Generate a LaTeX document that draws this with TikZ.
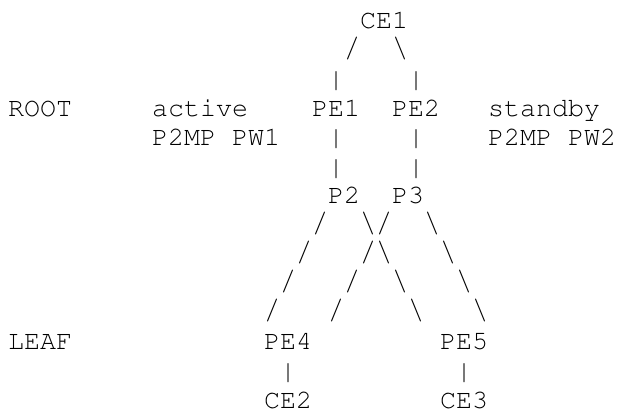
\documentclass[tikz,border=0pt]{standalone}
\usepackage[T1]{fontenc}
\usepackage{graphicx}
\usepackage{tikz}
\newcommand\asciifont{\fontfamily{pcr}\fontsize{26.67}{29.2}\selectfont}
% stretched link glyphs, as tall as in the reference
\newcommand\pipeglyph{\resizebox*{\width}{26pt}{|}}
\newcommand\slashglyph{\resizebox*{\width}{22pt}{/}}
\newcommand\bslashglyph{\resizebox*{\width}{22pt}{\textbackslash}}

\begin{document}
\begin{tikzpicture}
    %% grid: one unit = one character cell
    [
        x=16pt, y=-29.2pt,
        asciinode/.style={anchor=base west, inner sep=0pt, font=\asciifont},
        asciilink/.style={anchor=south west, inner sep=0pt, font=\asciifont, yshift=-2pt},
        pipelink/.style={asciilink, yshift=-5.5pt},
    ]
    \useasboundingbox (-0.5,-0.976) rectangle (38.125,13.168);

    %% Nodes
    \node [asciinode] (ce1) at (22,0) {CE1};
    \node [asciinode] (root) at (0,3) {ROOT};
    \node [asciinode] (active) at (9,3) {active};
    \node [asciinode] (pwone) at (9,4) {P2MP PW1};
    \node [asciinode] (pe1) at (19,3) {PE1};
    \node [asciinode] (pe2) at (24,3) {PE2};
    \node [asciinode] (standby) at (30,3) {standby};
    \node [asciinode] (pwtwo) at (30,4) {P2MP PW2};
    \node [asciinode] (p2) at (20,6) {P2};
    \node [asciinode] (p3) at (24,6) {P3};
    \node [asciinode] (leaf) at (0,11) {LEAF};
    \node [asciinode] (pe4) at (16,11) {PE4};
    \node [asciinode] (pe5) at (27,11) {PE5};
    \node [asciinode] (ce2) at (16,13) {CE2};
    \node [asciinode] (ce3) at (27,13) {CE3};

    %% Lines
    \foreach \cc/\rr [count=\i] in {21/1, 19/7, 23/7, 18/8, 22/8, 17/9, 21/9, 16/10, 20/10}
        \node [asciilink] (slash\i) at (\cc,\rr) {\slashglyph};
    \foreach \cc/\rr [count=\i] in {24/1, 22/7, 26/7, 23/8, 27/8, 24/9, 28/9, 25/10, 29/10}
        \node [asciilink] (bslash\i) at (\cc,\rr) {\bslashglyph};
    \foreach \cc/\rr [count=\i] in {20/2, 25/2, 20/4, 25/4, 20/5, 25/5, 17/12, 28/12}
        \node [pipelink] (pipe\i) at (\cc,\rr) {\pipeglyph};
\end{tikzpicture}
\end{document}
